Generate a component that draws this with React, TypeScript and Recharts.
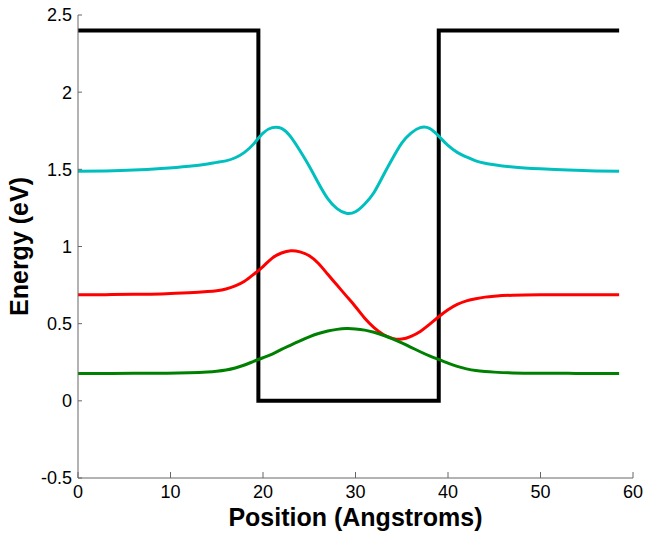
import * as React from "react";
import { LineChart, Line, XAxis, YAxis } from "recharts";

// sample positions (Angstroms) for the three state curves
const positions = [
  0, 3, 6, 9, 12, 14, 15, 16, 17, 18, 19, 20, 21, 22, 23, 24, 25, 26, 27, 28, 29,
  30, 31, 32, 33, 34, 35, 36, 37, 38, 39, 40, 41, 42, 43, 44, 45, 47, 50, 53, 56, 58.5,
];

const cyanLevel = [
  1.487, 1.49, 1.495, 1.505, 1.52, 1.535, 1.545, 1.555, 1.575, 1.61, 1.665, 1.735, 1.77,
  1.765, 1.71, 1.62, 1.52, 1.41, 1.31, 1.245, 1.215, 1.225, 1.275, 1.35, 1.46, 1.57, 1.67,
  1.735, 1.77, 1.765, 1.715, 1.655, 1.61, 1.58, 1.555, 1.54, 1.53, 1.515, 1.503, 1.495,
  1.49, 1.487,
];

const redLevel = [
  0.688, 0.688, 0.69, 0.693, 0.7, 0.708, 0.714, 0.725, 0.745, 0.775, 0.82, 0.87, 0.925,
  0.958, 0.972, 0.965, 0.94, 0.89, 0.82, 0.75, 0.68, 0.61, 0.535, 0.475, 0.43, 0.405,
  0.4, 0.418, 0.45, 0.495, 0.545, 0.59, 0.625, 0.648, 0.662, 0.672, 0.678, 0.684, 0.687,
  0.688, 0.688, 0.688,
];

const greenLevel = [
  0.177, 0.177, 0.178, 0.179, 0.182, 0.187, 0.192, 0.2, 0.213, 0.232, 0.256, 0.279, 0.303,
  0.333, 0.361, 0.389, 0.415, 0.436, 0.452, 0.463, 0.468, 0.466, 0.458, 0.444, 0.425,
  0.401, 0.375, 0.347, 0.318, 0.291, 0.268, 0.244, 0.223, 0.207, 0.196, 0.19, 0.186,
  0.181, 0.179, 0.178, 0.177, 0.177,
];

// square well potential
const wellX = [0, 19.5, 19.5, 39, 39, 58.5];
const wellV = [2.4, 2.4, 0, 0, 2.4, 2.4];

const xTicks = [0, 10, 20, 30, 40, 50, 60];
const yTicks = [-0.5, 0, 0.5, 1, 1.5, 2, 2.5];

const stateData = positions.map((x, i) => ({
  x,
  cyan: cyanLevel[i],
  red: redLevel[i],
  green: greenLevel[i],
}));
const wellData = wellX.map((x, i) => ({ x, v: wellV[i] }));

const FONT = '"Liberation Sans", Arial, Helvetica, sans-serif';
const tickStyle = { fontSize: 18, fill: "#000", fontFamily: FONT };

const XTitle = (props: any) => {
  const vb = props.viewBox;
  return (
    <text
      x={vb.x + vb.width / 2}
      y={526}
      textAnchor="middle"
      fontFamily={FONT}
      fontSize={25}
      fontWeight="bold"
      fill="#000"
    >
      Position (Angstroms)
    </text>
  );
};

const YTitle = (props: any) => {
  const vb = props.viewBox;
  const cx = 28;
  const cy = vb.y + vb.height / 2;
  return (
    <text
      x={cx}
      y={cy}
      transform={`rotate(-90 ${cx} ${cy})`}
      textAnchor="middle"
      fontFamily={FONT}
      fontSize={25}
      fontWeight="bold"
      fill="#000"
    >
      Energy (eV)
    </text>
  );
};

export default function App() {
  return (
    <div style={{ position: "absolute", left: 0, top: 0, background: "#fff" }}>
      <LineChart
        width={648}
        height={536}
        data={stateData}
        margin={{ top: 15, right: 15, left: 0, bottom: 0 }}
      >
        <XAxis
          dataKey="x"
          type="number"
          domain={[0, 60]}
          ticks={xTicks}
          height={58}
          tickSize={-6}
          tickMargin={13}
          tick={tickStyle}
          stroke="#666"
          label={{ content: XTitle }}
        />
        <YAxis
          type="number"
          domain={[-0.5, 2.5]}
          ticks={yTicks}
          width={78}
          tickSize={-4}
          tickMargin={10}
          tick={tickStyle}
          stroke="#666"
          label={{ content: YTitle }}
        />
        <Line
          data={wellData}
          dataKey="v"
          type="linear"
          stroke="#000"
          strokeWidth={4}
          dot={false}
          isAnimationActive={false}
        />
        <Line
          dataKey="cyan"
          type="natural"
          stroke="#00BFBF"
          strokeWidth={3}
          dot={false}
          isAnimationActive={false}
        />
        <Line
          dataKey="red"
          type="natural"
          stroke="#FF0000"
          strokeWidth={3}
          dot={false}
          isAnimationActive={false}
        />
        <Line
          dataKey="green"
          type="natural"
          stroke="#008000"
          strokeWidth={3}
          dot={false}
          isAnimationActive={false}
        />
      </LineChart>
    </div>
  );
}
